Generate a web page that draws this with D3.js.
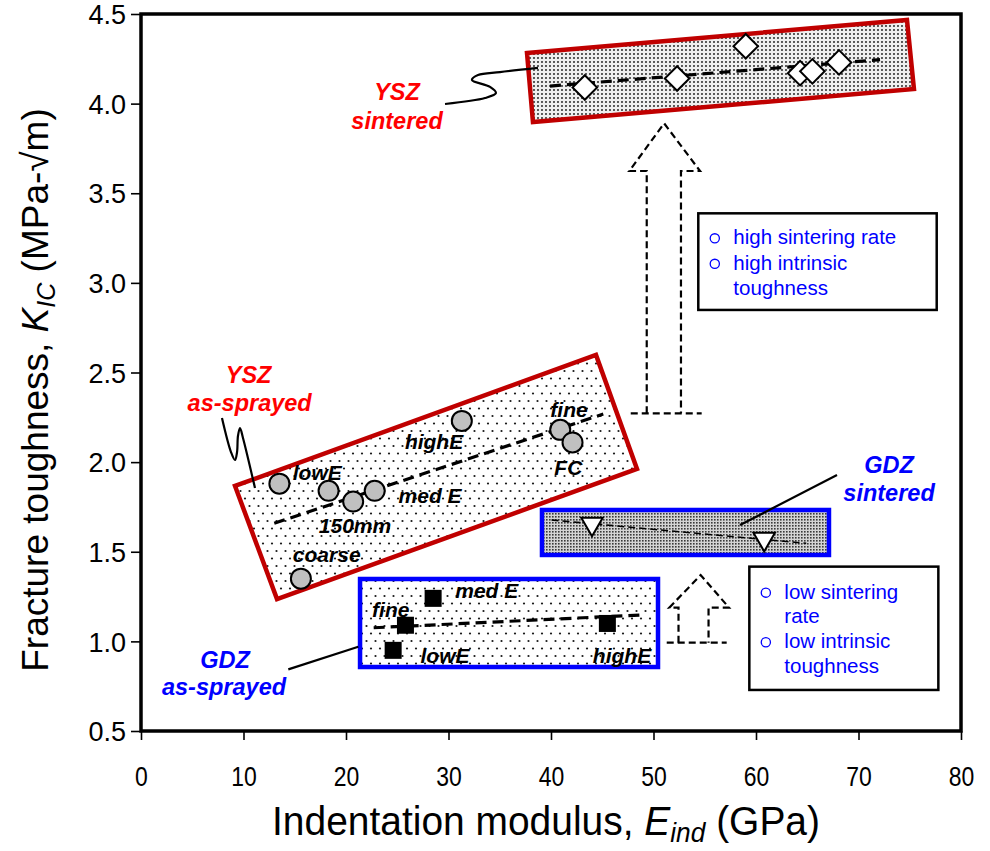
<!DOCTYPE html>
<html>
<head>
<meta charset="utf-8">
<script src="https://cdn.jsdelivr.net/npm/d3@7"></script>
<style>
  html, body { margin: 0; padding: 0; background: #fff; }
  svg { display: block; font-family: "Liberation Sans", Arial, sans-serif; }
</style>
</head>
<body>
<svg id="chart" width="990" height="851"></svg>
<script>
// ---- measured data: indentation modulus E (GPa) vs fracture toughness K_IC (MPa·√m)
const yszSinteredE = [43.3, 52.3, 59.0, 64.3, 65.5, 68.1];
const yszSinteredK = [4.09, 4.14, 4.32, 4.17, 4.18, 4.23];

const yszSprayedNames = ["lowE", "", "150mm", "med E", "highE", "fine", "FC", "coarse"];
const yszSprayedE = [13.5, 18.3, 20.7, 22.8, 31.3, 40.9, 42.1, 15.6];
const yszSprayedK = [1.88, 1.84, 1.78, 1.84, 2.23, 2.18, 2.11, 1.35];

const gdzSinteredE = [44.0, 60.8];
const gdzSinteredK = [1.655, 1.571];

const gdzSprayedNames = ["med E", "fine", "lowE", "highE"];
const gdzSprayedE = [28.5, 25.8, 24.6, 45.5];
const gdzSprayedK = [1.24, 1.09, 0.95, 1.10];

// trend lines: [E start, E end], [K start, K end]
const yszSinteredTrendE = [39.9, 72.1], yszSinteredTrendK = [4.098, 4.245];
const yszSprayedTrendE  = [13.0, 45.1], yszSprayedTrendK  = [1.659, 2.268];
const gdzSinteredTrendE = [40.05, 64.9], gdzSinteredTrendK = [1.677, 1.547];
const gdzSprayedTrendE  = [22.7, 48.7], gdzSprayedTrendK  = [1.076, 1.147];

// axis ticks
const xTicks = [0, 10, 20, 30, 40, 50, 60, 70, 80];
const yTicks = [0.5, 1.0, 1.5, 2.0, 2.5, 3.0, 3.5, 4.0, 4.5];

// ---- layout
const svg = d3.select("#chart");
const margin = { left: 141, top: 14, right: 29, bottom: 120 };
const W = 990 - margin.left - margin.right;
const H = 851 - margin.top - margin.bottom;

const x = d3.scaleLinear().domain([0, 80]).range([margin.left, margin.left + W]);
const y = d3.scaleLinear().domain([0.5, 4.5]).range([margin.top + H, margin.top]);

const RED_BOX = "#c00000", RED_TXT = "#ff0000", BLUE = "#0000ff";

// ---- fill patterns
const defs = svg.append("defs");
const pDense = defs.append("pattern").attr("id", "dense").attr("patternUnits", "userSpaceOnUse")
  .attr("width", 4).attr("height", 4);
pDense.append("rect").attr("width", 4).attr("height", 4).attr("fill", "#efefef");
pDense.append("circle").attr("cx", 2).attr("cy", 2).attr("r", 1.05).attr("fill", "#333");

const pChecker = defs.append("pattern").attr("id", "checker").attr("patternUnits", "userSpaceOnUse")
  .attr("width", 3).attr("height", 3);
pChecker.append("rect").attr("width", 3).attr("height", 3).attr("fill", "#d4d4d4");
pChecker.append("rect").attr("width", 1.6).attr("height", 1.6).attr("fill", "#3a3a3a");

const pSparse = defs.append("pattern").attr("id", "sparse").attr("patternUnits", "userSpaceOnUse")
  .attr("width", 9).attr("height", 15);
pSparse.append("rect").attr("width", 9).attr("height", 15).attr("fill", "#ffffff");
pSparse.append("circle").attr("cx", 2).attr("cy", 3.5).attr("r", 1.1).attr("fill", "#1a1a1a");
pSparse.append("circle").attr("cx", 6.5).attr("cy", 11).attr("r", 1.1).attr("fill", "#1a1a1a");

// ---- group envelopes (data coordinates)
const yszSinteredBox = [[37.66, 4.282], [74.73, 4.467], [75.41, 4.082], [38.24, 3.897]];
const yszSprayedBox  = [[9.17, 1.867], [44.39, 2.598], [48.39, 1.962], [13.27, 1.236]];
const gdzSinteredBox = { e0: 39.12, e1: 67.12, k0: 1.482, k1: 1.733 };
const gdzSprayedBox  = { e0: 21.37, e1: 50.44, k0: 0.857, k1: 1.348 };

const poly = pts => "M" + pts.map(p => x(p[0]) + "," + y(p[1])).join("L") + "Z";
const g = svg.append("g");

g.append("path").attr("d", poly(yszSinteredBox)).attr("fill", "url(#dense)")
  .attr("stroke", RED_BOX).attr("stroke-width", 4.5).attr("stroke-linejoin", "miter");
g.append("path").attr("d", poly(yszSprayedBox)).attr("fill", "url(#sparse)")
  .attr("stroke", RED_BOX).attr("stroke-width", 4.5);
[[gdzSinteredBox, "url(#checker)"], [gdzSprayedBox, "url(#sparse)"]].forEach(([b, f]) => {
  g.append("rect").attr("x", x(b.e0)).attr("y", y(b.k1))
    .attr("width", x(b.e1) - x(b.e0)).attr("height", y(b.k0) - y(b.k1))
    .attr("fill", f).attr("stroke", BLUE).attr("stroke-width", 4.5);
});

// ---- dashed arrows
function upArrow(a, dash) {
  const pts = [[a.shaftL, a.base], [a.shaftL, a.neck], [a.headL, a.neck], [a.mid, a.tip],
               [a.headR, a.neck], [a.shaftR, a.neck], [a.shaftR, a.base]];
  g.append("path").attr("d", "M" + pts.map(p => x(p[0]) + "," + y(p[1])).join("L"))
    .attr("fill", "none").attr("stroke", "#000").attr("stroke-width", 2.2)
    .attr("stroke-dasharray", dash);
  g.append("line").attr("x1", x(a.baseL)).attr("x2", x(a.baseR))
    .attr("y1", y(a.base)).attr("y2", y(a.base))
    .attr("stroke", "#000").attr("stroke-width", 2.2).attr("stroke-dasharray", dash);
}
upArrow({ mid: 51.04, tip: 3.890, neck: 3.624, headL: 47.64, headR: 54.54,
          shaftL: 49.34, shaftR: 52.68, base: 2.272, baseL: 47.78, baseR: 54.70 }, "7,4");
upArrow({ mid: 54.60, tip: 1.370, neck: 1.188, headL: 51.54, headR: 57.37,
          shaftL: 52.44, shaftR: 55.37, base: 0.993, baseL: 51.29, baseR: 57.14 }, "7,4");

// ---- trend lines
const trend = (E, K, w, dash) => g.append("line")
  .attr("x1", x(E[0])).attr("y1", y(K[0])).attr("x2", x(E[1])).attr("y2", y(K[1]))
  .attr("stroke", "#000").attr("stroke-width", w).attr("stroke-dasharray", dash);
trend(yszSinteredTrendE, yszSinteredTrendK, 3.2, "11,6");
trend(yszSprayedTrendE, yszSprayedTrendK, 3.2, "11,6");
trend(gdzSprayedTrendE, gdzSprayedTrendK, 3.2, "11,6");
trend(gdzSinteredTrendE, gdzSinteredTrendK, 1.6, "7,4");

// ---- leader lines
const leader = d3.line().x(d => x(d[0])).y(d => y(d[1])).curve(d3.curveCatmullRom.alpha(0.5));
const leaders = [
  [[29.66, 3.998], [33.56, 4.031], [34.63, 4.059], [34.05, 4.093], [32.29, 4.132],
   [32.88, 4.160], [35.02, 4.176], [38.73, 4.199]],
  [[7.90, 2.246], [8.78, 2.056], [9.17, 2.012], [9.37, 2.056], [9.46, 2.146],
   [9.66, 2.190], [9.95, 2.135], [11.12, 1.856]],
  [[58.44, 1.649], [67.90, 1.928]],
  [[14.37, 0.844], [21.2, 0.970]]
];
leaders.forEach(pts => g.append("path").attr("d", leader(pts))
  .attr("fill", "none").attr("stroke", "#000").attr("stroke-width", 2.2));

// ---- markers
const idx = a => a.map((_, i) => i);
const sym = (type, size) => d3.symbol().type(type).size(size)();

g.selectAll(".ysz-sint").data(idx(yszSinteredE)).join("path")
  .attr("d", sym(d3.symbolSquare, 300))
  .attr("transform", i => `translate(${x(yszSinteredE[i])},${y(yszSinteredK[i])}) rotate(45)`)
  .attr("fill", "#fff").attr("stroke", "#000").attr("stroke-width", 2);

g.selectAll(".ysz-spr").data(idx(yszSprayedE)).join("circle")
  .attr("cx", i => x(yszSprayedE[i])).attr("cy", i => y(yszSprayedK[i])).attr("r", 10)
  .attr("fill", "#c0c0c0").attr("stroke", "#000").attr("stroke-width", 2);

g.selectAll(".gdz-sint").data(idx(gdzSinteredE)).join("path")
  .attr("d", sym(d3.symbolTriangle, 200))
  .attr("transform", i => `translate(${x(gdzSinteredE[i])},${y(gdzSinteredK[i])}) rotate(180)`)
  .attr("fill", "#fff").attr("stroke", "#000").attr("stroke-width", 2);

g.selectAll(".gdz-spr").data(idx(gdzSprayedE)).join("rect")
  .attr("x", i => x(gdzSprayedE[i]) - 8.5).attr("y", i => y(gdzSprayedK[i]) - 8.5)
  .attr("width", 17).attr("height", 17).attr("fill", "#000");

// ---- point labels inside envelopes
const pointLabels = [
  ["lowE", 17.2, 1.900], ["highE", 28.59, 2.072], ["fine", 41.76, 2.250], ["FC", 41.69, 1.928],
  ["med E", 28.2, 1.774], ["150mm", 20.88, 1.603], ["coarse", 18.12, 1.444],
  ["med E", 33.73, 1.240], ["fine", 24.37, 1.138], ["lowE", 29.66, 0.881], ["highE", 46.93, 0.878]
];
g.selectAll(".plabel").data(pointLabels).join("text")
  .attr("x", d => x(d[1])).attr("y", d => y(d[2]))
  .attr("text-anchor", "middle").attr("font-size", 21).attr("font-weight", "bold")
  .attr("font-style", "italic").attr("fill", "#000").text(d => d[0]);

// ---- group labels
const groupLabels = [
  ["YSZ", 24.98, 4.020, RED_TXT], ["sintered", 24.98, 3.858, RED_TXT],
  ["YSZ", 10.5, 2.443, RED_TXT], ["as-sprayed", 10.6, 2.287, RED_TXT],
  ["GDZ", 72.98, 1.938, BLUE], ["sintered", 72.98, 1.783, BLUE],
  ["GDZ", 8.2, 0.850, BLUE], ["as-sprayed", 8.1, 0.701, BLUE]
];
g.selectAll(".glabel").data(groupLabels).join("text")
  .attr("x", d => x(d[1])).attr("y", d => y(d[2]))
  .attr("text-anchor", "middle").attr("font-size", 23.5).attr("font-weight", "bold")
  .attr("font-style", "italic").attr("fill", d => d[3]).text(d => d[0]);

// ---- explanatory boxes
const notes = [
  { e0: 54.37, e1: 77.63, k0: 2.849, k1: 3.388, bullets: [0, 1],
    lines: ["high sintering rate", "high intrinsic", "toughness"], top: 31, step: 25.5 },
  { e0: 59.35, e1: 77.79, k0: 0.729, k1: 1.417, bullets: [0, 2],
    lines: ["low sintering", "rate", "low intrinsic", "toughness"], top: 32, step: 24.8 }
];
notes.forEach(n => {
  const bx = x(n.e0), by = y(n.k1);
  g.append("rect").attr("x", bx).attr("y", by).attr("width", x(n.e1) - bx)
    .attr("height", y(n.k0) - by).attr("fill", "#fff").attr("stroke", "#000").attr("stroke-width", 2.5);
  n.lines.forEach((t, i) => {
    g.append("text").attr("x", bx + 35).attr("y", by + n.top + i * n.step)
      .attr("font-size", 20.5).attr("fill", BLUE).text(t);
  });
  n.bullets.forEach(i => {
    g.append("circle").attr("cx", bx + 16.5).attr("cy", by + n.top + i * n.step - 6)
      .attr("r", 4.6).attr("fill", "none").attr("stroke", BLUE).attr("stroke-width", 1.3);
  });
});

// ---- axes and frame
const xAxis = svg.append("g").attr("transform", `translate(0,${margin.top + H})`)
  .call(d3.axisBottom(x).tickValues(xTicks).tickSize(9).tickSizeOuter(0).tickFormat(d3.format("d")));
const yAxis = svg.append("g").attr("transform", `translate(${margin.left},0)`)
  .call(d3.axisLeft(y).tickValues(yTicks).tickSize(10).tickSizeOuter(0).tickFormat(d3.format(".1f")));
[xAxis, yAxis].forEach(a => {
  a.select(".domain").remove();
  a.selectAll(".tick line").attr("stroke", "#000").attr("stroke-width", 1.6);
  a.selectAll(".tick text").attr("fill", "#000").attr("font-family", "'Liberation Sans', Arial, sans-serif");
});
yAxis.selectAll(".tick text").attr("font-size", 27).attr("x", -15).attr("dy", "0.36em");
xAxis.selectAll(".tick text").attr("font-size", 28).attr("x", 0).attr("y", 0).attr("dy", 0)
  .attr("transform", "translate(0,55) scale(0.82,1)");

svg.append("rect").attr("x", margin.left).attr("y", margin.top).attr("width", W).attr("height", H)
  .attr("fill", "none").attr("stroke", "#000").attr("stroke-width", 3.5);

// ---- axis titles
const yTitle = svg.append("text").attr("transform", `translate(48,390) rotate(-90)`)
  .attr("text-anchor", "middle").attr("font-size", 37).attr("fill", "#000");
yTitle.append("tspan").text("Fracture toughness, ");
yTitle.append("tspan").attr("font-style", "italic").text("K");
yTitle.append("tspan").attr("font-style", "italic").attr("font-size", 25).attr("dy", 7).text("IC");
yTitle.append("tspan").attr("dy", -7).text(" (MPa-√m)");

const xTitle = svg.append("text").attr("x", 0).attr("y", 0)
  .attr("text-anchor", "middle").attr("font-size", 40).attr("fill", "#000");
xTitle.append("tspan").text("Indentation modulus, ");
xTitle.append("tspan").attr("font-style", "italic").text("E");
xTitle.append("tspan").attr("font-style", "italic").attr("font-size", 27).attr("dy", 7).text("ind");
xTitle.append("tspan").attr("dy", -7).text(" (GPa)");
const xtw = xTitle.node().getBBox().width;
const sx = 548 / xtw;
xTitle.attr("transform", `translate(546,835) scale(${sx},1)`);
</script>
</body>
</html>
